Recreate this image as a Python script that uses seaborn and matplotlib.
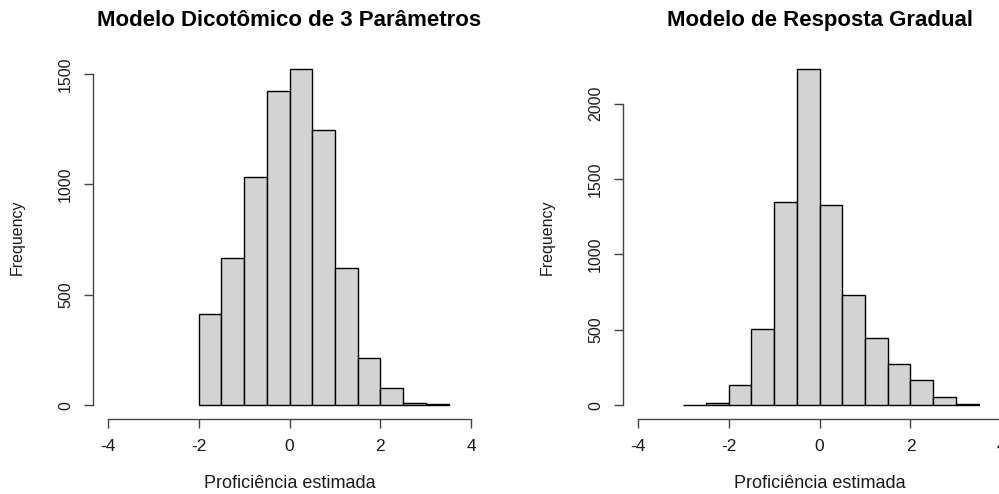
import matplotlib
matplotlib.use("Agg")
import matplotlib.pyplot as plt
import seaborn as sns
import numpy as np

sns.set_style("white")
plt.rcParams['font.family'] = ['Liberation Sans', 'DejaVu Sans']

# Data
left_edges = [-2.0, -1.5, -1.0, -0.5, 0.0, 0.5, 1.0, 1.5, 2.0, 2.5, 3.0, 3.5]
left_counts = [412, 665, 1032, 1423, 1521, 1246, 621, 213, 76, 10, 3]
right_edges = [-3.0, -2.5, -2.0, -1.5, -1.0, -0.5, 0.0, 0.5, 1.0, 1.5, 2.0, 2.5, 3.0, 3.5]
right_counts = [3, 11, 130, 506, 1348, 2226, 1328, 731, 442, 274, 164, 55, 8]
titles = ["Modelo Dicotômico de 3 Parâmetros", "Modelo de Resposta Gradual"]
xlabel = "Proficiência estimada"
ylabel = "Frequency"
xticks = [-4, -2, 0, 2, 4]
left_yticks = [0, 500, 1000, 1500]
right_yticks = [0, 500, 1000, 1500, 2000]

fig = plt.figure(figsize=(9.99, 4.94), dpi=100)
ax_l = fig.add_axes([0.0933, 0.1528, 0.3930, 0.7338])
ax_r = fig.add_axes([0.6237, 0.1528, 0.3933, 0.7338])

panels = [
    (ax_l, left_edges, left_counts, left_yticks, titles[0]),
    (ax_r, right_edges, right_counts, right_yticks, titles[1]),
]

axis_col = "#444444"
text_col = "#1a1a1a"

for ax, edges, counts, yt, title in panels:
    centers = [(a + b) / 2 for a, b in zip(edges[:-1], edges[1:])]
    sns.histplot(x=centers, weights=counts, bins=edges, ax=ax,
                 color="#D3D3D3", edgecolor="black", linewidth=1.0,
                 alpha=1.0, stat="count")
    ymax = max(counts)
    ax.set_xlim(-4.32, 4.32)
    ax.set_ylim(-0.04 * ymax, 1.04 * ymax)
    for s in ["top", "right"]:
        ax.spines[s].set_visible(False)
    for s in ["left", "bottom"]:
        ax.spines[s].set_color(axis_col)
        ax.spines[s].set_linewidth(1.0)
    ax.spines["bottom"].set_bounds(xticks[0], xticks[-1])
    ax.spines["left"].set_bounds(yt[0], yt[-1])
    ax.set_xticks(xticks)
    ax.set_yticks(yt)
    ax.set_xticklabels([str(v) for v in xticks])
    ax.set_yticklabels([str(v) for v in yt], rotation=90, va="center")
    ax.tick_params(axis="both", which="major", direction="out",
                   bottom=True, left=True, top=False, right=False,
                   length=6.5, width=1.0, color=axis_col,
                   labelcolor=text_col)
    ax.tick_params(axis="x", pad=8, labelsize=12.5)
    ax.tick_params(axis="y", pad=8, labelsize=11.5)
    ax.set_xlabel(xlabel, fontsize=13, color=text_col)
    ax.set_ylabel(ylabel, fontsize=11.5, color=text_col)
    ax.xaxis.set_label_coords(0.5, -0.1917)
    ax.xaxis.label.set_va("baseline")
    ax.yaxis.set_label_coords(-0.194, 0.5)
    ax.yaxis.label.set_va("center")
    ax.text(0.5, 1.0824, title, transform=ax.transAxes, ha="center",
            va="baseline", fontsize=16, fontweight="bold", color="black")
    ax.grid(False)

fig.savefig("out.png", dpi=100)
